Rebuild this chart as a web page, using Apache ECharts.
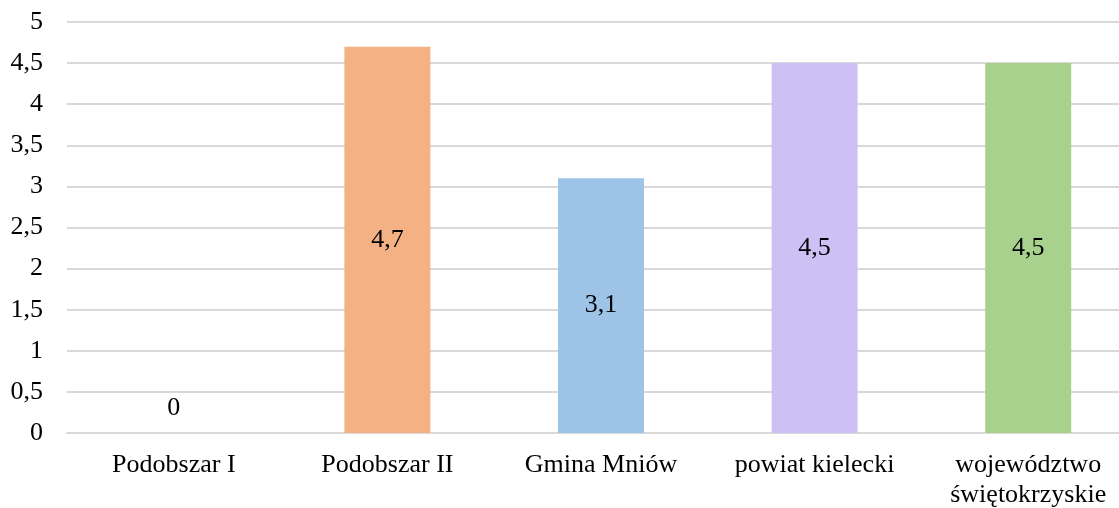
<!DOCTYPE html>
<html>
<head>
<meta charset="utf-8">
<script src="https://cdn.jsdelivr.net/npm/echarts@6/dist/echarts.min.js"></script>
<style>
  html, body { margin: 0; padding: 0; background: #fff; overflow: hidden; }
  #chart { width: 1135px; height: 508px; }
</style>
</head>
<body>
<div id="chart"></div>
<script>
var categories = ['Podobszar I', 'Podobszar II', 'Gmina Mniów', 'powiat kielecki', 'województwo\nświętokrzyskie'];
var values = [0, 4.7, 3.1, 4.5, 4.5];
var colors = ['#F4B183', '#F4B183', '#9DC3E6', '#CCC0F5', '#A9D18E'];

var chart = echarts.init(document.getElementById('chart'));
var fmt = function (v) { return String(v).replace('.', ','); };

chart.setOption({
    animation: false,
    textStyle: { fontFamily: 'Liberation Serif' },
    grid: { left: 67, right: 0, top: 22, bottom: 75, outerBoundsMode: 'none', containLabel: false },
    xAxis: {
        type: 'category',
        data: categories,
        axisLine: { lineStyle: { color: '#D9D9D9', width: 2 } },
        axisTick: { show: false },
        axisLabel: { color: '#000', fontSize: 26, margin: 17, lineHeight: 30, interval: 0, fontFamily: 'Liberation Serif' }
    },
    yAxis: {
        type: 'value',
        min: 0, max: 5, interval: 0.5,
        axisLine: { show: false },
        axisTick: { show: false },
        splitLine: { lineStyle: { color: '#D9D9D9', width: 2 } },
        axisLabel: { color: '#000', fontSize: 26, margin: 24, formatter: fmt, fontFamily: 'Liberation Serif' }
    },
    series: [{
        type: 'bar',
        barWidth: 86,
        data: values.map(function (v, i) {
            var item = { value: v, itemStyle: { color: colors[i] } };
            if (v === 0) item.label = { position: 'top', distance: 12 };
            return item;
        }),
        label: {
            show: true,
            position: 'inside',
            color: '#000',
            fontSize: 26,
            fontFamily: 'Liberation Serif',
            formatter: function (p) { return fmt(p.value); }
        }
    }]
});
</script>
</body>
</html>
